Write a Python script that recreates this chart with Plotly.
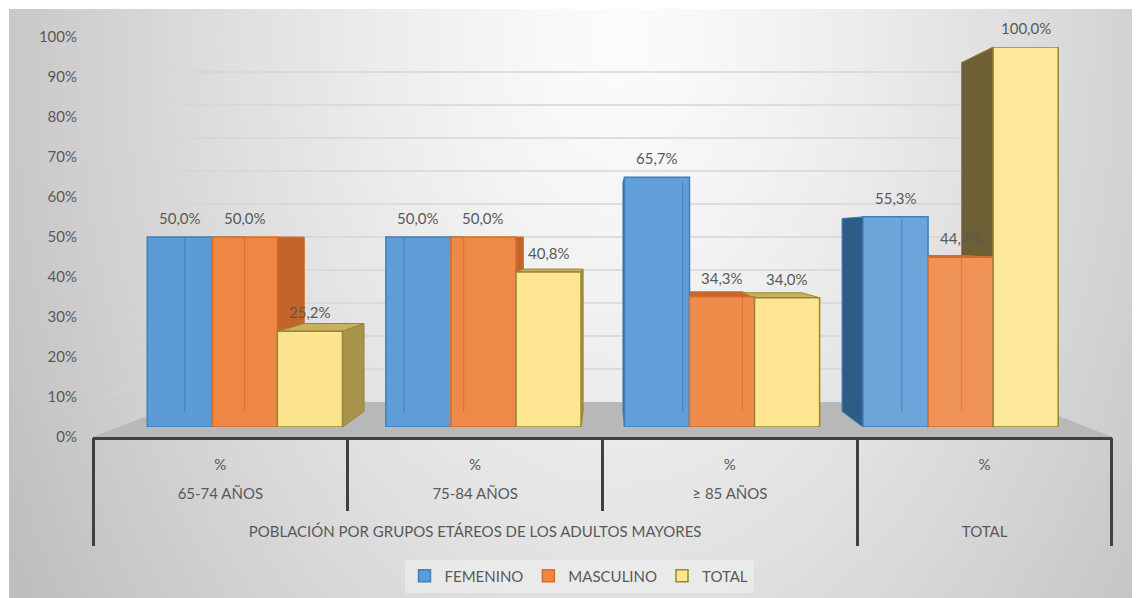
import base64
import struct
import zlib

import numpy as np
import plotly.graph_objects as go

# ---------------- data ----------------
groups = [0, 1, 2, 3]
pct_row = ["%", "%", "%", "%"]
age_groups = ["65-74 AÑOS", "75-84 AÑOS", "≥ 85 AÑOS"]
outer_labels = ["POBLACIÓN POR GRUPOS ETÁREOS DE LOS ADULTOS MAYORES", "TOTAL"]
outer_pos = [1, 3]
series_names = ["FEMENINO", "MASCULINO", "TOTAL"]
femenino = [50.0, 50.0, 65.7, 55.3]
masculino = [50.0, 50.0, 34.3, 44.7]
total = [25.2, 40.8, 34.0, 100.0]
y_ticks = [0, 10, 20, 30, 40, 50, 60, 70, 80, 90, 100]
y_ticktext = [f"{t}%" for t in y_ticks]
series_values = [femenino, masculino, total]

# ---------------- styles ----------------
FONT = "Lato"
TXT = "#595959"
AXC = "#404040"
STY = [
    dict(front="#5b9bd6", line="#3f7fbf", top="#4c88c4", right="#4d87c0", left="#2f5c86",
         inner="rgba(50,110,175,0.55)"),
    dict(front="#ee8743", line="#d56e2a", top="#c9662a", right="#c4632a", left="#8d4a1f",
         inner="rgba(200,95,30,0.45)"),
    dict(front="#fde48f", line="#9a8530", top="#c7b061", right="#a8934c", left="#6e5f34",
         inner=None),
]
LIGHTEN = [0.0, 0.02, 0.04, 0.10]  # Excel lighting toward the right of the chart


def lighten(hexc, f):
    r, g, b = (int(hexc[i:i + 2], 16) for i in (1, 3, 5))
    r, g, b = (round(c + (255 - c) * f) for c in (r, g, b))
    return f"#{r:02x}{g:02x}{b:02x}"


# ---------------- geometry (3D look) ----------------
W, H = 1140, 598
OFF = 8  # page body margin
AX_L, AX_R = 93, 1112
AX_Y0, PX_PER = 437, 4.0
KMIN, KMAX = -0.5, 3.5
VK, VV = 1.515, 50.0
S_FRONT = (0.9365, 0.95)
S_BACK = (0.86, 0.872)
S_WALL = (0.825, 0.825)
BAR_W = 0.2727


def proj(k, v, s):
    return VK + s[0] * (k - VK), VV + s[1] * (v - VV)


def to_front_frame(p):
    return VK + (p[0] - VK) / S_FRONT[0], VV + (p[1] - VV) / S_FRONT[1]


def xpx(k):
    return AX_L + (k - KMIN) / (KMAX - KMIN) * (AX_R - AX_L)


def ypx(v):
    return AX_Y0 - PX_PER * v


def xd(px):
    return (px - OFF) / W


def yd(py):
    return 1 - (py - OFF) / H


# ---------------- background gradient image ----------------
def png_gray(arr):
    h, w = arr.shape
    raw = b"".join(b"\x00" + arr[i].tobytes() for i in range(h))

    def chunk(t, d):
        c = struct.pack(">I", len(d)) + t + d
        return c + struct.pack(">I", zlib.crc32(t + d) & 0xFFFFFFFF)

    return (b"\x89PNG\r\n\x1a\n"
            + chunk(b"IHDR", struct.pack(">IIBBBBB", w, h, 8, 0, 0, 0, 0))
            + chunk(b"IDAT", zlib.compress(raw, 9))
            + chunk(b"IEND", b""))


gx = np.linspace(9, W + OFF, 283)
gy = np.linspace(9, H + OFF, 148)
GX, GY = np.meshgrid(gx, gy)
dist = np.sqrt(((GX - 620) / 600) ** 2 + ((GY - 40) / 900) ** 2)
bg = np.clip(252 - 50 * dist ** 1.3, 190, 252).astype(np.uint8)
bg_uri = "data:image/png;base64," + base64.b64encode(png_gray(bg)).decode()

fig = go.Figure()

# floor
fl = [(KMIN, 0), (KMAX, 0), proj(KMAX, 0, S_WALL), proj(KMIN, 0, S_WALL), (KMIN, 0)]
fig.add_trace(go.Scatter(x=[p[0] for p in fl], y=[p[1] for p in fl], fill="toself",
                         fillcolor="#b8b8b8", line=dict(width=0), mode="lines",
                         hoverinfo="skip", showlegend=False, xaxis="x", yaxis="y"))

# gridlines: back wall + side wall
gxs, gys, sxs, sys_ = [], [], [], []
for v in y_ticks[1:]:
    a = proj(KMIN, v, S_WALL)
    b = proj(KMAX, v, S_WALL)
    gxs += [a[0], b[0], None]
    gys += [a[1], b[1], None]
    sxs += [KMIN + 0.05, a[0], None]
    sys_ += [v, a[1], None]
fig.add_trace(go.Scatter(x=gxs, y=gys, mode="lines", line=dict(color="#d6d6d6", width=1.5),
                         hoverinfo="skip", showlegend=False, xaxis="x", yaxis="y"))
fig.add_trace(go.Scatter(x=sxs, y=sys_, mode="lines", line=dict(color="rgba(214,214,214,0.55)", width=1.5),
                         hoverinfo="skip", showlegend=False, xaxis="x", yaxis="y"))

# side and top faces of bars; inner (see-through) back edges
side_faces, top_faces = [], []
inner_x = {0: [], 1: [], 2: []}
inner_y = {0: [], 1: [], 2: []}
for j, vals in enumerate(series_values):
    for g, h in zip(groups, vals):
        c = g + (j - 1) * BAR_W
        x0, x1 = c - BAR_W / 2, c + BAR_W / 2
        if x1 < VK:
            e, ie = x1, x0
            side_faces.append(([proj(e, 0, S_FRONT), proj(e, h, S_FRONT), proj(e, h, S_BACK), proj(e, 0, S_BACK)],
                               STY[j]["right"], STY[j]["line"]))
        elif x0 > VK:
            e, ie = x0, x1
            side_faces.append(([proj(e, 0, S_FRONT), proj(e, h, S_FRONT), proj(e, h, S_BACK), proj(e, 0, S_BACK)],
                               STY[j]["left"], STY[j]["line"]))
        else:
            ie = None
        if h < VV:
            top_faces.append(([proj(x0, h, S_FRONT), proj(x1, h, S_FRONT), proj(x1, h, S_BACK), proj(x0, h, S_BACK)],
                              STY[j]["top"], STY[j]["line"]))
        if ie is not None:
            pa = to_front_frame(proj(ie, 0, S_BACK))
            pb = to_front_frame(proj(ie, h, S_BACK))
            inner_x[j] += [pa[0], pb[0], None]
            inner_y[j] += [pa[1], min(pb[1], h), None]
for pts, fc, lc in side_faces + top_faces:
    pts = pts + [pts[0]]
    fig.add_trace(go.Scatter(x=[p[0] for p in pts], y=[p[1] for p in pts], fill="toself",
                             fillcolor=fc, mode="lines", line=dict(color=lc, width=1),
                             hoverinfo="skip", showlegend=False, xaxis="x", yaxis="y"))

# dummy anchors for label axes
for ax in ("x3", "x4"):
    fig.add_trace(go.Scatter(x=groups, y=[None] * len(groups), mode="markers", showlegend=False,
                             hoverinfo="skip", xaxis=ax, yaxis="y"))

# front faces (bars)
for j, (name, vals) in enumerate(zip(series_names, series_values)):
    fig.add_trace(go.Bar(
        x=[g + (j - 1) * BAR_W for g in groups], y=vals, width=BAR_W, name=name,
        marker=dict(color=[lighten(STY[j]["front"], LIGHTEN[g]) for g in groups],
                    line=dict(color=STY[j]["line"], width=1.5)),
        xaxis="x2", yaxis="y2", hovertemplate="%{y:.1f}%<extra>" + name + "</extra>"))

# see-through back edges drawn over the front faces
for j in range(3):
    if STY[j]["inner"] is None:
        continue
    fig.add_trace(go.Scatter(x=inner_x[j], y=inner_y[j], mode="lines",
                             line=dict(color=STY[j]["inner"], width=1.2),
                             hoverinfo="skip", showlegend=False, xaxis="x5", yaxis="y5"))

annotations = []
for j, vals in enumerate(series_values):
    for g, h in zip(groups, vals):
        annotations.append(dict(
            x=g + (j - 1) * BAR_W, y=h, xref="x2", yref="y2",
            text=f"{h:.1f}".replace(".", ",") + "%", showarrow=False, yshift=19,
            font=dict(family=FONT, size=15, color=TXT)))

fx0 = xpx(proj(KMIN, 0, S_FRONT)[0])
fx1 = xpx(proj(KMAX, 0, S_FRONT)[0])
fy0 = ypx(proj(0, 0, S_FRONT)[1])
fy1 = ypx(proj(0, 100, S_FRONT)[1])

tickfont = dict(family=FONT, size=15, color=TXT)
fig.update_layout(
    width=W, height=H, autosize=False,
    margin=dict(l=0, r=0, t=0, b=0, pad=0, autoexpand=False),
    paper_bgcolor="white", plot_bgcolor="rgba(0,0,0,0)",
    barmode="overlay", separators=",.",
    font=dict(family=FONT, size=15, color=TXT),
    images=[dict(source=bg_uri, xref="paper", yref="paper", x=xd(9), y=yd(9),
                 sizex=1 - xd(9), sizey=yd(9), xanchor="left", yanchor="top",
                 sizing="stretch", layer="below")],
    xaxis=dict(domain=[xd(AX_L), xd(AX_R)], range=[KMIN, KMAX], showgrid=False, zeroline=False,
               showline=True, linecolor=AXC, linewidth=2.5,
               tickmode="array", tickvals=groups, ticktext=pct_row, ticks="",
               ticklabelstandoff=12, tickfont=tickfont,
               minor=dict(tickmode="array", tickvals=[0.5, 1.5], ticks="outside",
                          ticklen=71, tickwidth=2.5, tickcolor=AXC)),
    yaxis=dict(domain=[yd(AX_Y0), yd(ypx(100))], range=[0, 100], showgrid=False, zeroline=False,
               tickmode="array", tickvals=y_ticks, ticktext=y_ticktext, ticks="",
               ticklabelstandoff=15, tickfont=tickfont),
    xaxis3=dict(overlaying="x", anchor="y", side="bottom", range=[KMIN, KMAX], showgrid=False,
                zeroline=False, showline=False,
                tickmode="array", tickvals=groups[:3], ticktext=age_groups, ticks="",
                ticklabelstandoff=46, tickfont=tickfont,
                minor=dict(tickmode="array", tickvals=[-0.499, 2.5, 3.499], ticks="outside",
                           ticklen=108, tickwidth=2.5, tickcolor=AXC)),
    xaxis4=dict(overlaying="x", anchor="y", side="bottom", range=[KMIN, KMAX], showgrid=False,
                zeroline=False, showline=False,
                tickmode="array", tickvals=outer_pos, ticktext=outer_labels, ticks="",
                ticklabelstandoff=84, tickfont=tickfont),
    xaxis2=dict(domain=[xd(fx0), xd(fx1)], range=[KMIN, KMAX], visible=False, anchor="y2"),
    yaxis2=dict(domain=[yd(fy0), yd(fy1)], range=[0, 100], visible=False, anchor="x2"),
    xaxis5=dict(overlaying="x2", anchor="y5", range=[KMIN, KMAX], visible=False),
    yaxis5=dict(overlaying="y2", anchor="x5", range=[0, 100], visible=False),
    legend=dict(orientation="h", x=xd(579), xanchor="center", y=yd(576), yanchor="middle",
                bgcolor="rgba(240,240,240,0.6)", font=dict(family=FONT, size=15, color=TXT),
                traceorder="normal", itemwidth=30),
    annotations=annotations,
    showlegend=True,
)

fig.write_html("out.html", config={"responsive": False})
